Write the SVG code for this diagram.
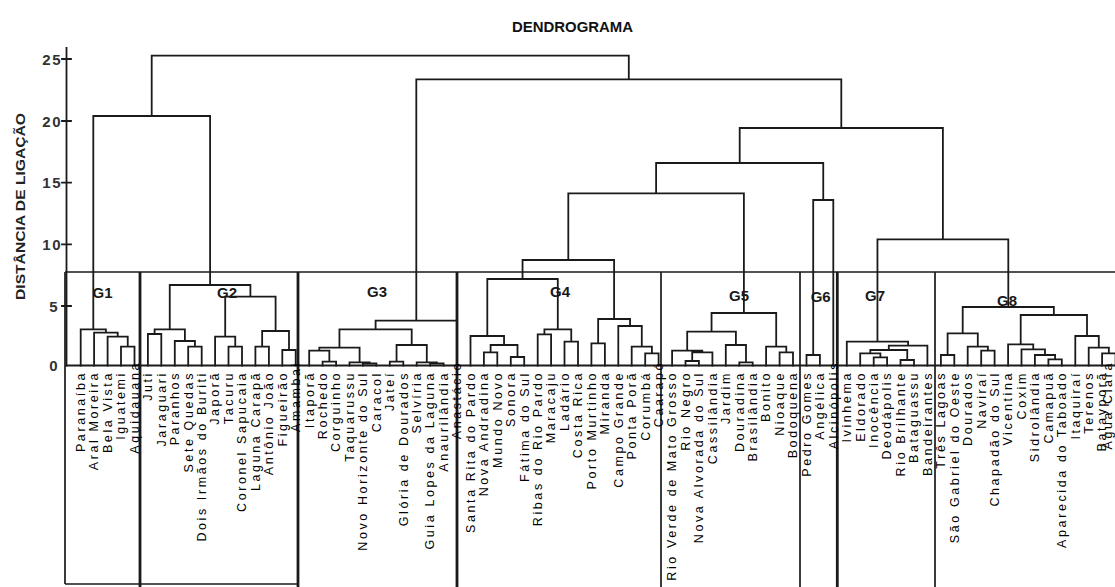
<svg xmlns="http://www.w3.org/2000/svg" width="1115" height="587" viewBox="0 0 1115 587">
<style>
.bg{fill:#fff}
.ln{fill:none;stroke:#1a1a1a;stroke-width:1.8;stroke-linecap:square}
.box{fill:none;stroke:#1a1a1a;stroke-width:1.7}
.thick{fill:none;stroke:#1a1a1a;stroke-width:2.8}
.lab{font-family:"Liberation Sans",Arial,sans-serif;font-size:12.5px;letter-spacing:2.6px;fill:#000;text-anchor:end}
.grp{font-family:"Liberation Sans",Arial,sans-serif;font-size:15px;font-weight:bold;fill:#1a1a1a;text-anchor:middle}
.tick{font-family:"Liberation Sans",Arial,sans-serif;font-size:15px;font-weight:bold;fill:#333;text-anchor:end;letter-spacing:1.5px}
.ttl{font-family:"Liberation Sans",Arial,sans-serif;font-size:15px;font-weight:bold;fill:#111;text-anchor:middle}
.ax{font-family:"Liberation Sans",Arial,sans-serif;font-size:13px;font-weight:bold;fill:#222;text-anchor:middle}
</style>
<rect class="bg" x="0" y="0" width="1115" height="587"/>
<text class="ttl" x="572.5" y="31.5" textLength="121" lengthAdjust="spacingAndGlyphs">DENDROGRAMA</text>
<g id="axis">
<path class="ln" d="M66.5 48 V365.5 M62 59 H71 M62 121 H71 M62 182.7 H71 M62 244.3 H71 M62 306 H71"/>
<text class="tick" x="62" y="64.5">25</text>
<text class="tick" x="62" y="126.5">20</text>
<text class="tick" x="62" y="188">15</text>
<text class="tick" x="62" y="249.5">10</text>
<text class="tick" x="59" y="311.5">5</text>
<text class="tick" x="59" y="371">0</text>
<text class="ax" transform="translate(25,206.5) rotate(-90)" textLength="187" lengthAdjust="spacingAndGlyphs">DISTÂNCIA DE LIGAÇÃO</text>
</g>
<g id="groups">
<path class="box" d="M65 272 H1115 M65 272 V584 M65 584 H298 M661 272 V587 M800 272 V587 M935 272 V587"/>
<path class="thick" d="M140 272 V587 M298 272 V587 M457 272 V587 M837.3 272 V587"/>
<g id="G1"><text class="grp" x="102.5" y="298">G1</text></g>
<g id="G2"><text class="grp" x="227" y="298">G2</text></g>
<g id="G3"><text class="grp" x="377" y="297">G3</text></g>
<g id="G4"><text class="grp" x="560" y="297">G4</text></g>
<g id="G5"><text class="grp" x="739" y="300.5">G5</text></g>
<g id="G6"><text class="grp" x="820.7" y="302">G6</text></g>
<g id="G7"><text class="grp" x="875" y="300.5">G7</text></g>
<g id="G8"><text class="grp" x="1007" y="305.5">G8</text></g>
</g>
<g id="connectors">
<path class="ln" d="M66.5 365.5 H1115"/>
<path class="ln" d="
M121 365.5 V346.7 H134.5 V365.5
M107.6 365.5 V336.7 H127.75 V346.7
M94.1 365.5 V332.7 H117.7 V336.7
M80.7 365.5 V329.3 H105.9 V332.7
M147.9 365.5 V334 H161.3 V365.5
M188.2 365.5 V346.7 H201.7 V365.5
M174.8 365.5 V341 H194.95 V346.7
M154.6 334 V329.3 H184.9 V341
M228.5 365.5 V346.7 H242 V365.5
M215.1 365.5 V336.7 H235.25 V346.7
M255.4 365.5 V346.7 H268.9 V365.5
M282.3 365.5 V350 H295.7 V365.5
M262.15 346.7 V331 H289 V350
M225.2 336.7 V296.7 H275.6 V331
M169.75 329.3 V285 H250.4 V296.7
M93.3 329.3 V116 H210.1 V285
M322.6 365.5 V361.7 H336.1 V365.5
M309.2 365.5 V350.7 H329.35 V361.7
M362.9 365.5 V363.5 H376.4 V365.5
M349.5 365.5 V362.3 H369.65 V363.5
M319.3 350.7 V347.7 H359.6 V362.3
M389.8 365.5 V361.7 H403.3 V365.5
M430.1 365.5 V363.5 H443.6 V365.5
M416.7 365.5 V362.3 H436.85 V363.5
M396.55 361.7 V345 H426.8 V362.3
M339.45 347.7 V329.3 H411.7 V345
M375.6 329.3 V320.7 H457 V365.5
M483.9 365.5 V352.3 H497.3 V365.5
M510.8 365.5 V357 H524.2 V365.5
M490.6 352.3 V345 H517.5 V357
M470.5 365.5 V336 H504.05 V345
M537.7 365.5 V334.3 H551.1 V365.5
M564.5 365.5 V341.7 H578 V365.5
M544.4 334.3 V329.3 H571.25 V341.7
M487.3 336 V279 H557.8 V329.3
M591.4 365.5 V343.3 H604.9 V365.5
M645.2 365.5 V353.3 H658.6 V365.5
M631.7 365.5 V346.7 H651.9 V353.3
M618.3 365.5 V326 H641.8 V346.7
M598.15 343.3 V319 H630.05 V326
M522.55 279 V260 H614.1 V319
M685.5 365.5 V361 H698.9 V365.5
M692.2 361 V352.3 H712.4 V365.5
M672.1 365.5 V350.7 H702.3 V352.3
M739.3 365.5 V362.3 H752.7 V365.5
M725.8 365.5 V345 H746 V362.3
M687.2 350.7 V331.7 H735.9 V345
M779.6 365.5 V352.3 H793 V365.5
M766.1 365.5 V346.7 H786.3 V352.3
M711.55 331.7 V313 H776.2 V346.7
M568.3 260 V193.3 H743.9 V313
M806.5 365.5 V355 H819.9 V365.5
M813.2 355 V200 H833.3 V365.5
M656.1 193.3 V163 H823.25 V200
M873.7 365.5 V357.3 H887.1 V365.5
M860.2 365.5 V353.3 H880.4 V357.3
M900.5 365.5 V360 H914 V365.5
M870.3 353.3 V350 H907.25 V360
M888.8 350 V345.7 H927.4 V365.5
M846.8 365.5 V341.7 H908.1 V345.7
M940.9 365.5 V355 H954.3 V365.5
M981.2 365.5 V350.7 H994.6 V365.5
M967.7 365.5 V346.7 H987.9 V350.7
M947.6 355 V333.3 H977.8 V346.7
M1048.4 365.5 V359.3 H1061.8 V365.5
M1034.9 365.5 V355 H1055.1 V359.3
M1021.5 365.5 V349.3 H1045 V355
M1008.1 365.5 V344.3 H1033.25 V349.3
M1102.1 365.5 V353.3 H1115.6 V365.5
M1088.7 365.5 V347.7 H1108.85 V353.3
M1075.3 365.5 V336 H1098.8 V347.7
M1020.7 344.3 V315 H1087 V336
M962.7 333.3 V307 H1053.85 V315
M877.45 341.7 V239.3 H1008.3 V307
M739.7 163 V128 H942.9 V239.3
M416.3 320.7 V79.3 H841.3 V128
M151.7 116 V55.7 H628.8 V79.3
"/>
</g>
<g id="leaves">
<g id="n00"><text class="lab" transform="translate(85,371) rotate(-90)">Paranaíba</text></g>
<g id="n01"><text class="lab" transform="translate(98.4,371) rotate(-90)">Aral Moreira</text></g>
<g id="n02"><text class="lab" transform="translate(111.9,371) rotate(-90)">Bela Vista</text></g>
<g id="n03"><text class="lab" transform="translate(125.3,371) rotate(-90)">Iguatemi</text></g>
<g id="n04"><text class="lab" transform="translate(138.8,361) rotate(-90)">Aquidauana</text></g>
<g id="n05"><text class="lab" transform="translate(152.2,371) rotate(-90)">Juti</text></g>
<g id="n06"><text class="lab" transform="translate(165.6,371) rotate(-90)">Jaraguari</text></g>
<g id="n07"><text class="lab" transform="translate(179.1,371) rotate(-90)">Paranhos</text></g>
<g id="n08"><text class="lab" transform="translate(192.5,371) rotate(-90)">Sete Quedas</text></g>
<g id="n09"><text class="lab" transform="translate(206,371) rotate(-90)">Dois Irmãos do Buriti</text></g>
<g id="n10"><text class="lab" transform="translate(219.4,371) rotate(-90)">Japorã</text></g>
<g id="n11"><text class="lab" transform="translate(232.8,371) rotate(-90)">Tacuru</text></g>
<g id="n12"><text class="lab" transform="translate(246.3,371) rotate(-90)">Coronel Sapucaia</text></g>
<g id="n13"><text class="lab" transform="translate(259.7,371) rotate(-90)">Laguna Carapã</text></g>
<g id="n14"><text class="lab" transform="translate(273.2,371) rotate(-90)">Antônio João</text></g>
<g id="n15"><text class="lab" transform="translate(286.6,371) rotate(-90)">Figueirão</text></g>
<g id="n16"><text class="lab" transform="translate(300,361) rotate(-90)">Amambai</text></g>
<g id="n17"><text class="lab" transform="translate(313.5,371) rotate(-90)">Itaporã</text></g>
<g id="n18"><text class="lab" transform="translate(326.9,371) rotate(-90)">Rochedo</text></g>
<g id="n19"><text class="lab" transform="translate(340.4,371) rotate(-90)">Corguinho</text></g>
<g id="n20"><text class="lab" transform="translate(353.8,371) rotate(-90)">Taquarussu</text></g>
<g id="n21"><text class="lab" transform="translate(367.2,371) rotate(-90)">Novo Horizonte do Sul</text></g>
<g id="n22"><text class="lab" transform="translate(380.7,371) rotate(-90)">Caracol</text></g>
<g id="n23"><text class="lab" transform="translate(394.1,371) rotate(-90)">Jateí</text></g>
<g id="n24"><text class="lab" transform="translate(407.6,371) rotate(-90)">Glória de Dourados</text></g>
<g id="n25"><text class="lab" transform="translate(421,371) rotate(-90)">Selvíria</text></g>
<g id="n26"><text class="lab" transform="translate(434.4,371) rotate(-90)">Guia Lopes da Laguna</text></g>
<g id="n27"><text class="lab" transform="translate(447.9,371) rotate(-90)">Anaurilândia</text></g>
<g id="n28"><text class="lab" transform="translate(461.3,361) rotate(-90)">Anastácio</text></g>
<g id="n29"><text class="lab" transform="translate(474.8,371) rotate(-90)">Santa Rita do Pardo</text></g>
<g id="n30"><text class="lab" transform="translate(488.2,371) rotate(-90)">Nova Andradina</text></g>
<g id="n31"><text class="lab" transform="translate(501.6,371) rotate(-90)">Mundo Novo</text></g>
<g id="n32"><text class="lab" transform="translate(515.1,371) rotate(-90)">Sonora</text></g>
<g id="n33"><text class="lab" transform="translate(528.5,371) rotate(-90)">Fátima do Sul</text></g>
<g id="n34"><text class="lab" transform="translate(542,371) rotate(-90)">Ribas do Rio Pardo</text></g>
<g id="n35"><text class="lab" transform="translate(555.4,371) rotate(-90)">Maracaju</text></g>
<g id="n36"><text class="lab" transform="translate(568.8,371) rotate(-90)">Ladário</text></g>
<g id="n37"><text class="lab" transform="translate(582.3,371) rotate(-90)">Costa Rica</text></g>
<g id="n38"><text class="lab" transform="translate(595.7,371) rotate(-90)">Porto Murtinho</text></g>
<g id="n39"><text class="lab" transform="translate(609.2,371) rotate(-90)">Miranda</text></g>
<g id="n40"><text class="lab" transform="translate(622.6,371) rotate(-90)">Campo Grande</text></g>
<g id="n41"><text class="lab" transform="translate(636,371) rotate(-90)">Ponta Porã</text></g>
<g id="n42"><text class="lab" transform="translate(649.5,371) rotate(-90)">Corumbá</text></g>
<g id="n43"><text class="lab" transform="translate(662.9,361) rotate(-90)">Caarapó</text></g>
<g id="n44"><text class="lab" transform="translate(676.4,371) rotate(-90)">Rio Verde de Mato Grosso</text></g>
<g id="n45"><text class="lab" transform="translate(689.8,371) rotate(-90)">Rio Negro</text></g>
<g id="n46"><text class="lab" transform="translate(703.2,371) rotate(-90)">Nova Alvorada do Sul</text></g>
<g id="n47"><text class="lab" transform="translate(716.7,371) rotate(-90)">Cassilândia</text></g>
<g id="n48"><text class="lab" transform="translate(730.1,371) rotate(-90)">Jardim</text></g>
<g id="n49"><text class="lab" transform="translate(743.6,371) rotate(-90)">Douradina</text></g>
<g id="n50"><text class="lab" transform="translate(757,371) rotate(-90)">Brasilândia</text></g>
<g id="n51"><text class="lab" transform="translate(770.4,371) rotate(-90)">Bonito</text></g>
<g id="n52"><text class="lab" transform="translate(783.9,371) rotate(-90)">Nioaque</text></g>
<g id="n53"><text class="lab" transform="translate(797.3,371) rotate(-90)">Bodoquena</text></g>
<g id="n54"><text class="lab" transform="translate(810.8,371) rotate(-90)">Pedro Gomes</text></g>
<g id="n55"><text class="lab" transform="translate(824.2,371) rotate(-90)">Angélica</text></g>
<g id="n56"><text class="lab" transform="translate(837.6,361) rotate(-90)">Alcinópolis</text></g>
<g id="n57"><text class="lab" transform="translate(851.1,371) rotate(-90)">Ivinhema</text></g>
<g id="n58"><text class="lab" transform="translate(864.5,371) rotate(-90)">Eldorado</text></g>
<g id="n59"><text class="lab" transform="translate(878,371) rotate(-90)">Inocência</text></g>
<g id="n60"><text class="lab" transform="translate(891.4,371) rotate(-90)">Deodápolis</text></g>
<g id="n61"><text class="lab" transform="translate(904.8,371) rotate(-90)">Rio Brilhante</text></g>
<g id="n62"><text class="lab" transform="translate(918.3,371) rotate(-90)">Bataguassu</text></g>
<g id="n63"><text class="lab" transform="translate(931.7,371) rotate(-90)">Bandeirantes</text></g>
<g id="n64"><text class="lab" transform="translate(945.2,371) rotate(-90)">Três Lagoas</text></g>
<g id="n65"><text class="lab" transform="translate(958.6,371) rotate(-90)">São Gabriel do Oeste</text></g>
<g id="n66"><text class="lab" transform="translate(972,371) rotate(-90)">Dourados</text></g>
<g id="n67"><text class="lab" transform="translate(985.5,371) rotate(-90)">Naviraí</text></g>
<g id="n68"><text class="lab" transform="translate(998.9,371) rotate(-90)">Chapadão do Sul</text></g>
<g id="n69"><text class="lab" transform="translate(1012.4,371) rotate(-90)">Vicentina</text></g>
<g id="n70"><text class="lab" transform="translate(1025.8,371) rotate(-90)">Coxim</text></g>
<g id="n71"><text class="lab" transform="translate(1039.2,371) rotate(-90)">Sidrolândia</text></g>
<g id="n72"><text class="lab" transform="translate(1052.7,371) rotate(-90)">Camapuã</text></g>
<g id="n73"><text class="lab" transform="translate(1066.1,371) rotate(-90)">Aparecida do Taboado</text></g>
<g id="n74"><text class="lab" transform="translate(1079.6,371) rotate(-90)">Itaquiraí</text></g>
<g id="n75"><text class="lab" transform="translate(1093,371) rotate(-90)">Terenos</text></g>
<g id="n76"><text class="lab" transform="translate(1105.6,371) rotate(-90)">Batayporã</text></g>
<g id="n77"><text class="lab" transform="translate(1111.5,361) rotate(-90)">Água Clara</text></g>
</g>
</svg>
